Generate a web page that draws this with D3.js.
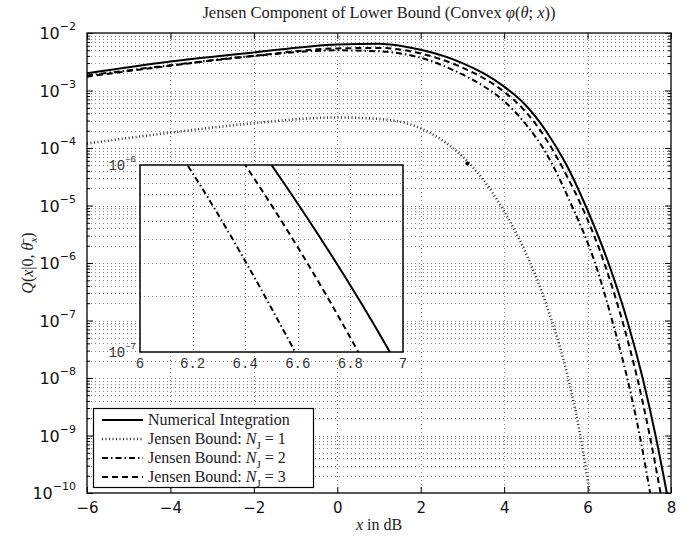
<!DOCTYPE html>
<html>
<head>
<meta charset="utf-8">
<script src="https://cdn.jsdelivr.net/npm/d3@7"></script>
<style>
body { margin: 0; background: #fff; }
svg { display: block; }
</style>
</head>
<body>
<div id="chart"></div>
<script>
// values (x in dB)
var xTicks = [-6, -4, -2, 0, 2, 4, 6, 8];
var yExponents = [-10, -9, -8, -7, -6, -5, -4, -3, -2];

var numIntX = [-6, -4, -2, 0, 1, 2, 3, 3.5, 4, 4.5, 5, 5.5, 5.95, 6.5, 6.95, 7.32, 7.63, 7.9];
var numIntY = [2.0e-3, 3.2e-3, 4.6e-3, 6.3e-3, 6.5e-3, 5.1e-3, 3.0e-3, 2.0e-3, 1.17e-3, 5.7e-4, 2.0e-4, 5e-5, 1e-5, 1e-6, 1e-7, 1e-8, 1e-9, 1e-10];

var jensen1X = [-6, -4, -2, 0, 1, 2, 3, 3.5, 4, 4.5, 5, 5.5, 5.8, 6.05];
var jensen1Y = [1.2e-4, 1.85e-4, 2.7e-4, 3.4e-4, 3.2e-4, 2.2e-4, 7.1e-5, 2.8e-5, 7.9e-6, 1.6e-6, 2.0e-7, 1.26e-8, 1.26e-9, 1e-10];

var jensen2X = [-6, -4, -2, 0, 1, 2, 3, 3.5, 4, 4.5, 5, 5.62, 6.18, 6.59, 6.95, 7.25, 7.5];
var jensen2Y = [1.82e-3, 2.75e-3, 4.0e-3, 5.0e-3, 4.8e-3, 3.7e-3, 1.9e-3, 1.2e-3, 6.5e-4, 2.7e-4, 8.3e-5, 1e-5, 1e-6, 1e-7, 1e-8, 1e-9, 1e-10];

var jensen3X = [-6, -4, -2, 0, 1, 2, 3, 3.5, 4, 4.5, 5, 5.5, 5.85, 6.4, 6.83, 7.19, 7.49, 7.75];
var jensen3Y = [1.74e-3, 2.7e-3, 4.0e-3, 5.4e-3, 5.5e-3, 4.4e-3, 2.5e-3, 1.65e-3, 9.5e-4, 4.4e-4, 1.45e-4, 3.3e-5, 1e-5, 1e-6, 1e-7, 1e-8, 1e-9, 1e-10];

// stray marker on the N_J = 1 curve
var markerX = [3.12];
var markerY = [5.4e-5];

var insetXTicks = [6, 6.2, 6.4, 6.6, 6.8, 7];
var insetXLabels = ["6", "6.2", "6.4", "6.6", "6.8", "7"];

var width = 698, height = 536;
var margin = {top: 33, right: 27, bottom: 43, left: 87};

var svg = d3.select("#chart").append("svg")
    .attr("width", width)
    .attr("height", height);

var x = d3.scaleLinear().domain([-6, 8]).range([margin.left, width - margin.right]);
var y = d3.scaleLog().domain([1e-10, 1e-2]).range([height - margin.bottom, margin.top]);

var majorY = yExponents.map(function(e) { return Math.pow(10, e); });
var minorY = [];
yExponents.slice(0, -1).forEach(function(e) {
    for (var m = 2; m <= 9; m++) minorY.push(m * Math.pow(10, e));
});

var x0 = x.range()[0], x1 = x.range()[1], y0 = y.range()[0], y1 = y.range()[1];

// grid
var grid = svg.append("g")
    .attr("stroke", "#888")
    .attr("stroke-width", 1)
    .attr("stroke-dasharray", "1,3");
grid.selectAll(".hg").data(minorY.concat(majorY.slice(1, -1))).enter()
    .append("line")
    .attr("x1", x0).attr("x2", x1)
    .attr("y1", function(d) { return Math.round(y(d)) + 0.5; })
    .attr("y2", function(d) { return Math.round(y(d)) + 0.5; });
grid.selectAll(".vg").data(xTicks.slice(1, -1)).enter()
    .append("line")
    .attr("y1", y0).attr("y2", y1)
    .attr("x1", function(d) { return Math.round(x(d)) + 0.5; })
    .attr("x2", function(d) { return Math.round(x(d)) + 0.5; });

// ticks on all four sides
function noLabels(a) { return a.tickFormat(""); }
svg.append("g").attr("transform", "translate(" + x0 + ",0)")
    .call(noLabels(d3.axisLeft(y).tickValues(majorY).tickSize(-6).tickSizeOuter(0)));
svg.append("g").attr("transform", "translate(" + x0 + ",0)")
    .call(noLabels(d3.axisLeft(y).tickValues(minorY).tickSize(-3).tickSizeOuter(0)));
svg.append("g").attr("transform", "translate(" + x1 + ",0)")
    .call(noLabels(d3.axisRight(y).tickValues(majorY).tickSize(-6).tickSizeOuter(0)));
svg.append("g").attr("transform", "translate(" + x1 + ",0)")
    .call(noLabels(d3.axisRight(y).tickValues(minorY).tickSize(-3).tickSizeOuter(0)));
svg.append("g").attr("transform", "translate(0," + y1 + ")")
    .call(noLabels(d3.axisTop(x).tickValues(xTicks).tickSize(-6).tickSizeOuter(0)));

var xAxis = svg.append("g").attr("transform", "translate(0," + y0 + ")")
    .call(d3.axisBottom(x).tickValues(xTicks).tickSize(-6).tickSizeOuter(0).tickPadding(9)
        .tickFormat(function(d) { return d < 0 ? "\u2212" + (-d) : d; }));
xAxis.selectAll("text")
    .attr("font-family", "DejaVu Sans")
    .attr("font-size", 15)
    .attr("fill", "#111");

svg.selectAll(".domain").remove();

// y tick labels 10^e
var yLabels = svg.append("g")
    .attr("font-family", "DejaVu Sans")
    .attr("fill", "#111");
yExponents.forEach(function(e) {
    var t = yLabels.append("text")
        .attr("x", 76)
        .attr("y", y(Math.pow(10, e)) + 6)
        .attr("text-anchor", "end");
    t.append("tspan").attr("font-size", 16).text("10");
    t.append("tspan").attr("font-size", 11).attr("dy", -9).text("\u2212" + (-e));
});

// curves
svg.append("clipPath").attr("id", "clip")
    .append("rect")
    .attr("x", x0).attr("y", y1)
    .attr("width", x1 - x0).attr("height", y0 - y1);

var series = [
    {xs: numIntX, ys: numIntY, dash: null, w: 2, c: "#000"},
    {xs: jensen1X, ys: jensen1Y, dash: "1,2.5", w: 2.6, c: "#333"},
    {xs: jensen2X, ys: jensen2Y, dash: "6,3,1.5,3", w: 2, c: "#000"},
    {xs: jensen3X, ys: jensen3Y, dash: "6,4", w: 2, c: "#000"}
];

function lineFor(xs, ys, sx, sy) {
    return d3.line()
        .x(function(i) { return sx(xs[i]); })
        .y(function(i) { return sy(ys[i]); })
        .curve(d3.curveMonotoneX)(d3.range(xs.length));
}

var curves = svg.append("g").attr("clip-path", "url(#clip)");
series.forEach(function(s) {
    curves.append("path")
        .attr("d", lineFor(s.xs, s.ys, x, y))
        .attr("fill", "none")
        .attr("stroke", s.c)
        .attr("stroke-width", s.w)
        .attr("stroke-dasharray", s.dash);
});
curves.selectAll(".marker").data(markerX).enter()
    .append("circle")
    .attr("cx", function(d) { return x(d); })
    .attr("cy", function(d, i) { return y(markerY[i]); })
    .attr("r", 2)
    .attr("fill", "#000");

// frame
svg.append("rect")
    .attr("x", x0).attr("y", y1)
    .attr("width", x1 - x0).attr("height", y0 - y1)
    .attr("fill", "none")
    .attr("stroke", "#000")
    .attr("stroke-width", 1.3);

// inset zoom 6..7 dB, 1e-7..1e-6
var ix = d3.scaleLinear().domain([6, 7]).range([140, 403]);
var iy = d3.scaleLog().domain([1e-7, 1e-6]).range([352, 165]);
var inset = svg.append("g");
inset.append("rect")
    .attr("x", 140).attr("y", 165)
    .attr("width", 263).attr("height", 187)
    .attr("fill", "#fff");

var insetMinor = d3.range(2, 10).map(function(m) { return m * 1e-7; });
var ig = inset.append("g")
    .attr("stroke", "#888")
    .attr("stroke-dasharray", "1,3");
ig.selectAll(".h").data(insetMinor).enter().append("line")
    .attr("x1", 140).attr("x2", 403)
    .attr("y1", function(d) { return Math.round(iy(d)) + 0.5; })
    .attr("y2", function(d) { return Math.round(iy(d)) + 0.5; });
ig.selectAll(".v").data(insetXTicks.slice(1, -1)).enter().append("line")
    .attr("y1", 165).attr("y2", 352)
    .attr("x1", function(d) { return Math.round(ix(d)) + 0.5; })
    .attr("x2", function(d) { return Math.round(ix(d)) + 0.5; });

inset.append("clipPath").attr("id", "iclip")
    .append("rect").attr("x", 140).attr("y", 165).attr("width", 263).attr("height", 187);
var icurves = inset.append("g").attr("clip-path", "url(#iclip)");
[series[0], series[2], series[3]].forEach(function(s) {
    icurves.append("path")
        .attr("d", lineFor(s.xs, s.ys, ix, iy))
        .attr("fill", "none")
        .attr("stroke", s.c)
        .attr("stroke-width", s.w)
        .attr("stroke-dasharray", s.dash);
});

inset.append("rect")
    .attr("x", 140).attr("y", 165)
    .attr("width", 263).attr("height", 187)
    .attr("fill", "none")
    .attr("stroke", "#000")
    .attr("stroke-width", 1.5);

var insetText = inset.append("g")
    .attr("font-family", "Liberation Mono")
    .attr("fill", "#333");
insetText.selectAll(".xl").data(insetXTicks).enter().append("text")
    .attr("x", function(d) { return ix(d); })
    .attr("y", 368)
    .attr("text-anchor", "middle")
    .attr("font-size", 14)
    .text(function(d, i) { return insetXLabels[i]; });
[-6, -7].forEach(function(e) {
    var t = insetText.append("text")
        .attr("x", 136)
        .attr("y", iy(Math.pow(10, e)) + 5)
        .attr("text-anchor", "end");
    t.append("tspan").attr("font-size", 14).text("10");
    t.append("tspan").attr("font-size", 9).attr("dy", -8).text("\u2212" + (-e));
});

// legend
var legendItems = [
    {label: "Numerical Integration", s: series[0]},
    {label: "1", s: series[1]},
    {label: "2", s: series[2]},
    {label: "3", s: series[3]}
];
var legend = svg.append("g");
legend.append("rect")
    .attr("x", 93.5).attr("y", 408.5)
    .attr("width", 220).attr("height", 79)
    .attr("fill", "#fff")
    .attr("stroke", "#000")
    .attr("stroke-width", 1.2);
legendItems.forEach(function(d, i) {
    var ly = 420 + i * 19;
    legend.append("line")
        .attr("x1", 102).attr("x2", 143)
        .attr("y1", ly).attr("y2", ly)
        .attr("stroke", d.s.c)
        .attr("stroke-width", d.s.w)
        .attr("stroke-dasharray", d.s.dash);
    var t = legend.append("text")
        .attr("x", 148)
        .attr("y", ly + 5)
        .attr("font-family", "Liberation Serif")
        .attr("font-size", 16)
        .attr("fill", "#222");
    if (i == 0) {
        t.text(d.label);
    } else {
        t.append("tspan").text("Jensen Bound: ");
        t.append("tspan").attr("font-style", "italic").text("N");
        t.append("tspan").attr("font-size", 11).attr("dy", 5).text("J");
        t.append("tspan").attr("dy", -5).text(" = " + d.label);
    }
});

// title and axis labels
var title = svg.append("text")
    .attr("x", (x0 + x1) / 2)
    .attr("y", 18)
    .attr("text-anchor", "middle")
    .attr("font-family", "Liberation Serif")
    .attr("font-size", 16.5)
    .attr("fill", "#222");
title.append("tspan").text("Jensen Component of Lower Bound (Convex ");
title.append("tspan").attr("font-style", "italic").text("\u03c6");
title.append("tspan").text("(");
title.append("tspan").attr("font-style", "italic").text("\u03b8");
title.append("tspan").text("; ");
title.append("tspan").attr("font-style", "italic").text("x");
title.append("tspan").text("))");

var xlab = svg.append("text")
    .attr("x", (x0 + x1) / 2)
    .attr("y", 530)
    .attr("text-anchor", "middle")
    .attr("font-family", "Liberation Serif")
    .attr("font-size", 16)
    .attr("fill", "#222");
xlab.append("tspan").attr("font-style", "italic").text("x");
xlab.append("tspan").text(" in dB");

var ylab = svg.append("text")
    .attr("transform", "translate(33," + ((y0 + y1) / 2) + ") rotate(-90)")
    .attr("text-anchor", "middle")
    .attr("font-family", "Liberation Serif")
    .attr("font-size", 16)
    .attr("fill", "#222");
ylab.append("tspan").attr("font-style", "italic").text("Q");
ylab.append("tspan").text("(");
ylab.append("tspan").attr("font-style", "italic").text("x");
ylab.append("tspan").text("|0, ");
ylab.append("tspan").attr("font-style", "italic").text("\u03b8\u0304");
ylab.append("tspan").attr("font-style", "italic").attr("font-size", 11).attr("dy", 4).text("x");
ylab.append("tspan").attr("dy", -4).text(")");
</script>
</body>
</html>
